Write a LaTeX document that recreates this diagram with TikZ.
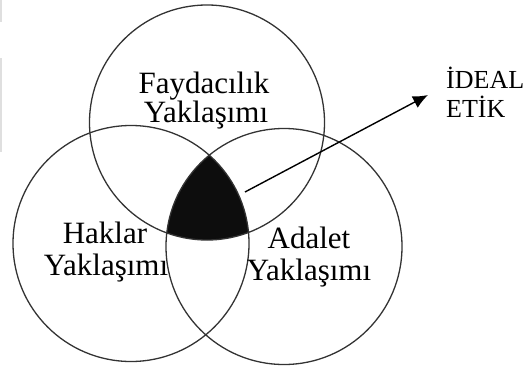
\documentclass[tikz,border=0pt]{standalone}
\usepackage{fontspec}
\setmainfont{Liberation Serif}
\usetikzlibrary{arrows.meta}
\begin{document}
\begin{tikzpicture}[x=1pt,y=-1pt,
  ring/.style={draw=black!80, line width=1.3pt},
  lbl/.style={anchor=base, inner sep=0pt, font=\fontsize{31}{31}\selectfont},
  side/.style={anchor=base west, inner sep=0pt, font=\fontsize{26}{26}\selectfont},
  pointer/.style={-{Latex[length=15pt,width=13pt]}, line width=1.4pt, draw=black}]
\useasboundingbox (0,0) rectangle (524,369);
% faint scan edge
\draw[gray!25, line width=2pt] (1,0) -- (1,22) (1,58) -- (1,152);
% centres
\coordinate (ct) at (207,122.5);
\coordinate (cl) at (131,243.5);
\coordinate (cr) at (284,246.5);
% black triple intersection
\begin{scope}
  \clip (ct) circle[radius=117.5];
  \clip (cl) circle[radius=118];
  \fill[black!95] (cr) circle[radius=118];
\end{scope}
% circles
\draw[ring] (ct) circle[radius=117.5];
\draw[ring] (cl) circle[radius=118];
\draw[ring] (cr) circle[radius=118];
% labels
\node[lbl] (fay1) at (204,93) {Faydacılık};
\node[lbl] (fay2) at (206,122) {Yaklaşımı};
\node[lbl] (hak1) at (105,243) {Haklar};
\node[lbl] (hak2) at (106,275) {Yaklaşımı};
\node[lbl] (ada1) at (309,248) {Adalet};
\node[lbl] (ada2) at (309,280) {Yaklaşımı};
\node[side] (id1) at (446,88) {İDEAL};
\node[side] (id2) at (446,117) {ETİK};
% arrow
\coordinate (s) at (245,192);
\coordinate (e) at (428,95);
\draw[pointer] (s) -- (e);
\end{tikzpicture}
\end{document}
